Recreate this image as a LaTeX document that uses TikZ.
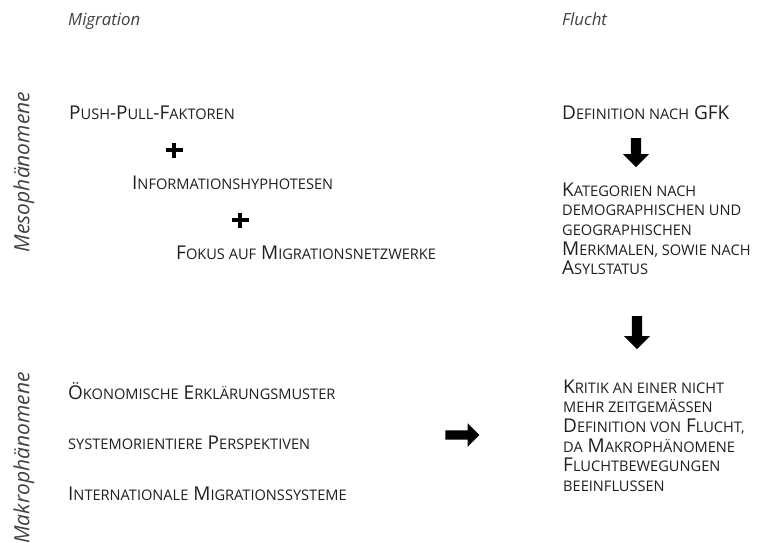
\documentclass[tikz,border=0pt]{standalone}
\usepackage{fontspec}
\setmainfont{Open Sans}
\usetikzlibrary{shapes.arrows}
\newcommand\lc[1]{{\fontsize{14.6}{17}\selectfont #1}}
\newcommand\mainf{\fontsize{19}{19.6}\selectfont}
\begin{document}
\begin{tikzpicture}[x=1pt,y=-1pt]
\useasboundingbox (0,0) rectangle (758,543);
\tikzset{
  lbl/.style={font=\fontsize{16.8}{19}\selectfont\itshape, text=black!75, inner sep=0pt, anchor=base west},
  vlbl/.style={font=\fontsize{21}{24}\selectfont\itshape, text=black!75, inner sep=0pt, rotate=90},
  item/.style={font=\mainf, text=black!88, anchor=base west, inner sep=0pt},
  blk/.style={font=\mainf, text=black!88, anchor=north west, inner sep=0pt, align=left},
  blockarrow/.style={single arrow, fill=black, draw=none, inner sep=4.5pt, single arrow tip angle=90},
  plussign/.style={line width=3.6pt, black}
}
% column headers
\node[lbl] (hmig) at (68,26) {Migration};
\node[lbl] (hflu) at (562,26) {Flucht};
% row labels
\node[vlbl] (meso) at (24,172) {Mesophänomene};
\node[vlbl] (makro) at (24,458) {Makrophänomene};
% Migration, meso
\node[item] (push) at (69,119) {P\lc{USH}-P\lc{ULL}-F\lc{AKTOREN}};
\node[item] (info) at (132,189) {I\lc{NFORMATIONSHYPHOTESEN}};
\node[item] (fokus) at (176,259) {F\lc{OKUS AUF} M\lc{IGRATIONSNETZWERKE}};
\coordinate (p1) at (174,150);
\coordinate (p2) at (240,220);
\draw[plussign] ([xshift=-8.5pt]p1) -- ([xshift=8.5pt]p1) ([yshift=-7.5pt]p1) -- ([yshift=7.5pt]p1);
\draw[plussign] ([xshift=-8.5pt]p2) -- ([xshift=8.5pt]p2) ([yshift=-7.5pt]p2) -- ([yshift=7.5pt]p2);
% Flucht, meso
\node[item] (def) at (562,119) {D\lc{EFINITION NACH} GFK};
\node[blockarrow, rotate=-90, minimum height=29pt, minimum width=26pt] (a1) at (636,150) {};
\node[blk] (kat) at (562,182.5) {K\lc{ATEGORIEN NACH}\\ \lc{DEMOGRAPHISCHEN UND}\\ \lc{GEOGRAPHISCHEN}\\ M\lc{ERKMALEN, SOWIE NACH}\\ A\lc{SYLSTATUS}};
\node[blockarrow, rotate=-90, minimum height=33pt, minimum width=26pt] (a2) at (637,330) {};
% Migration, makro
\node[item] (oeko) at (68,399) {Ö\lc{KONOMISCHE} E\lc{RKLÄRUNGSMUSTER}};
\node[item] (syst) at (68,449) {\lc{SYSTEMORIENTIERE} P\lc{ERSPEKTIVEN}};
\node[item] (inter) at (68,500) {I\lc{NTERNATIONALE} M\lc{IGRATIONSSYSTEME}};
\node[blockarrow, minimum height=34pt, minimum width=22pt] (a3) at (460,435) {};
% Flucht, makro
\node[blk] (krit) at (563,379.5) {K\lc{RITIK AN EINER NICHT}\\ \lc{MEHR ZEITGEMÄSSEN}\\ D\lc{EFINITION VON} F\lc{LUCHT,}\\ \lc{DA} M\lc{AKROPHÄNOMENE}\\ F\lc{LUCHTBEWEGUNGEN}\\ \lc{BEEINFLUSSEN}};
\end{tikzpicture}
\end{document}
